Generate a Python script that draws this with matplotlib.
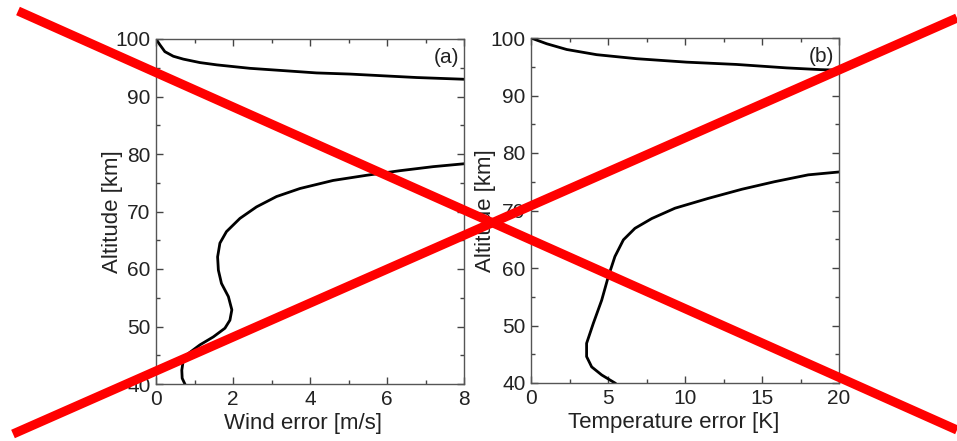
import numpy as np
import matplotlib
matplotlib.use("Agg")
import matplotlib.pyplot as plt
from matplotlib.lines import Line2D
from matplotlib.ticker import MultipleLocator

plt.rcParams['font.family'] = ['Liberation Sans', 'DejaVu Sans']

# (a) wind error, upper branch
wind_up_x = [0, 0.10, 0.23, 0.45, 0.71, 1.14, 1.58, 2.44, 3.31, 4.17, 5.04, 5.9, 6.77, 8.0]
wind_up_z = [100, 99.0, 97.8, 97.0, 96.5, 95.9, 95.5, 94.9, 94.5, 94.1, 93.9, 93.6, 93.3, 93.0]
# (a) wind error, lower branch
wind_lo_x = [8.0, 7.2, 6.34, 5.47, 4.6, 3.74, 3.13, 2.61, 2.18, 1.83, 1.66, 1.60, 1.62,
             1.70, 1.88, 1.97, 1.92, 1.79, 1.49, 1.14, 0.84, 0.71, 0.67, 0.68, 0.75]
wind_lo_z = [78.3, 77.8, 77.1, 76.3, 75.4, 74.0, 72.6, 70.8, 68.8, 66.5, 64.5, 62.1, 59.8,
             57.5, 55.2, 52.9, 51.1, 49.7, 48.2, 46.8, 45.3, 44.2, 42.4, 41.0, 40.0]

# (b) temperature error, upper branch
temp_up_x = [0, 1.02, 2.32, 4.26, 6.86, 10.1, 13.35, 16.6, 18.8, 20.0]
temp_up_z = [100, 99.0, 98.0, 97.1, 96.4, 95.8, 95.4, 94.8, 94.5, 94.4]
# (b) temperature error, lower branch
temp_lo_x = [20.0, 18.0, 15.8, 13.7, 11.5, 9.35, 7.84, 6.75, 6.0, 5.45, 5.02, 4.59,
             4.05, 3.61, 3.61, 3.94, 4.59, 5.45]
temp_lo_z = [76.7, 76.2, 75.0, 73.7, 72.1, 70.4, 68.6, 66.9, 64.9, 62.0, 58.5, 54.4,
             50.4, 46.9, 44.6, 42.8, 41.4, 40.0]

W, H = 957, 441
fig = plt.figure(figsize=(W / 100, H / 100), dpi=100)
ax1 = fig.add_axes([156 / W, 1 - 384 / H, 308 / W, 345 / H])
ax2 = fig.add_axes([531 / W, 1 - 383 / H, 308 / W, 345 / H])

def style(ax, xmax, xmaj, xmin, xlabel, tag, xl_x, yl_x):
    ax.set_xlim(0, xmax)
    ax.set_ylim(40, 100)
    ax.xaxis.set_major_locator(MultipleLocator(xmaj))
    ax.xaxis.set_minor_locator(MultipleLocator(xmin))
    ax.yaxis.set_major_locator(MultipleLocator(10))
    ax.yaxis.set_minor_locator(MultipleLocator(5))
    ax.tick_params(which='both', direction='in', top=True, right=True,
                   color='#444444', labelsize=15, labelcolor='#222222', pad=4)
    ax.tick_params(which='major', length=5, width=1)
    ax.tick_params(which='minor', length=3, width=1)
    for s in ax.spines.values():
        s.set_color('#555555')
        s.set_linewidth(1)
    ax.set_xlabel(xlabel, fontsize=16, color='#222222')
    ax.set_ylabel('Altitude [km]', fontsize=16, color='#222222')
    ax.xaxis.set_label_coords(xl_x, -0.085)
    ax.yaxis.set_label_coords(yl_x, 0.5)
    ax.text(0.985, 0.975, tag, transform=ax.transAxes, ha='right', va='top',
            fontsize=15, color='#222222')

ax1.plot(wind_up_x, wind_up_z, color='black', lw=2)
ax1.plot(wind_lo_x, wind_lo_z, color='black', lw=2)
style(ax1, 8, 2, 1, 'Wind error [m/s]', '(a)', 0.476, -0.107)

ax2.plot(temp_up_x, temp_up_z, color='black', lw=2)
ax2.plot(temp_lo_x, temp_lo_z, color='black', lw=2)
style(ax2, 20, 5, 2.5, 'Temperature error [K]', '(b)', 0.463, -0.114)

# big red cross over the whole figure
fig.add_artist(Line2D([18 / W, 1.0], [1 - 11 / H, 1 - 430 / H], color='red', lw=6.6,
                      solid_capstyle='butt'))
fig.add_artist(Line2D([13 / W, 1.0], [1 - 434 / H, 1 - 18 / H], color='red', lw=6.6,
                      solid_capstyle='butt'))

fig.savefig('out.png', dpi=100)
